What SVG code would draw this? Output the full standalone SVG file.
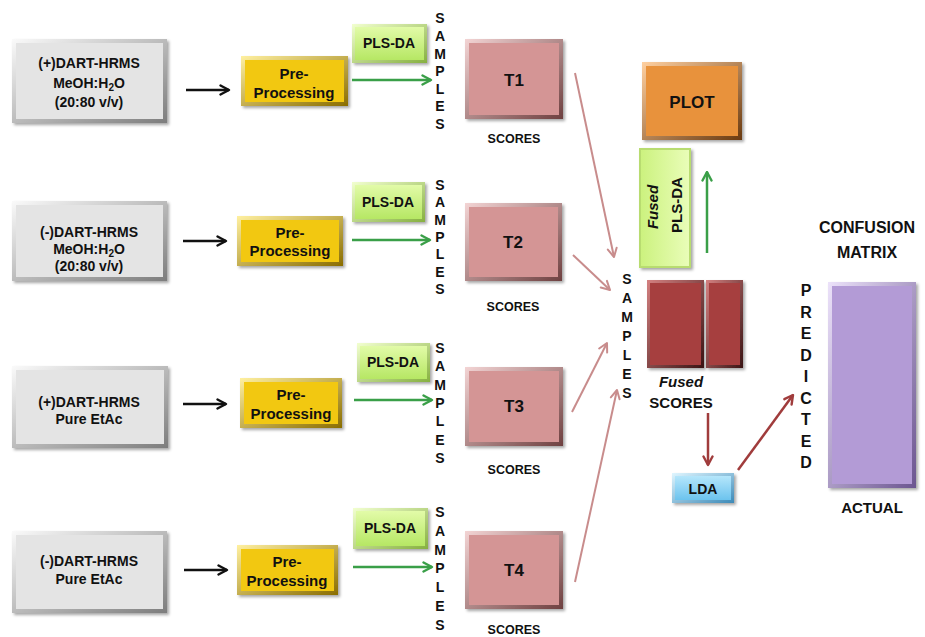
<svg xmlns="http://www.w3.org/2000/svg" width="925" height="637" viewBox="0 0 925 637">
<style>
text{font-family:"Liberation Sans","DejaVu Sans",Arial,sans-serif;font-weight:bold;fill:#111;}
.t13{font-size:13px;text-anchor:middle;}
.t14{font-size:14px;text-anchor:middle;}
.t15{font-size:15px;text-anchor:middle;}
.t16{font-size:16px;text-anchor:middle;}
.t17{font-size:17px;text-anchor:middle;}
.t12{font-size:12.5px;text-anchor:middle;}
.it{font-style:italic;}
.blk{stroke:#111;stroke-width:2.5;fill:none;}
.grn{stroke:#3a9f48;stroke-width:2.5;fill:none;}
.pnk{stroke:#c88c8c;stroke-width:2;fill:none;}
.drd{stroke:#a03c3c;stroke-width:2.5;fill:none;}
</style>
<defs>
<filter id="sh" x="-10%" y="-10%" width="125%" height="130%">
<feDropShadow dx="2" dy="2" stdDeviation="1.5" flood-color="#000" flood-opacity="0.35"/>
</filter>
<linearGradient id="eGray" x1="0" y1="0" x2="1" y2="1"><stop offset="0" stop-color="#fafafa"/><stop offset="1" stop-color="#7d7d7d"/></linearGradient>
<linearGradient id="eYel" x1="0" y1="0" x2="1" y2="1"><stop offset="0" stop-color="#fff0a0"/><stop offset="1" stop-color="#8a6d00"/></linearGradient>
<linearGradient id="eGrn" x1="0" y1="0" x2="1" y2="1"><stop offset="0" stop-color="#f2ffd0"/><stop offset="1" stop-color="#86b040"/></linearGradient>
<linearGradient id="eRose" x1="0" y1="0" x2="1" y2="1"><stop offset="0" stop-color="#f3d4d4"/><stop offset="1" stop-color="#6e4040"/></linearGradient>
<linearGradient id="eRed" x1="0" y1="0" x2="1" y2="1"><stop offset="0" stop-color="#d48080"/><stop offset="1" stop-color="#3a1414"/></linearGradient>
<linearGradient id="eOr" x1="0" y1="0" x2="1" y2="1"><stop offset="0" stop-color="#ffd0a0"/><stop offset="1" stop-color="#6a3a10"/></linearGradient>
<linearGradient id="ePur" x1="0" y1="0" x2="1" y2="1"><stop offset="0" stop-color="#ece2fa"/><stop offset="1" stop-color="#6b5590"/></linearGradient>
<linearGradient id="eBlu" x1="0" y1="0" x2="1" y2="1"><stop offset="0" stop-color="#e0f6ff"/><stop offset="1" stop-color="#3c8ab8"/></linearGradient>
<linearGradient id="fGrn" x1="0" y1="0" x2="0" y2="1"><stop offset="0" stop-color="#e2fba8"/><stop offset="1" stop-color="#b6e764"/></linearGradient>
<linearGradient id="fGrnH" x1="0" y1="0" x2="1" y2="0"><stop offset="0" stop-color="#ccf27f"/><stop offset="1" stop-color="#e9fdb8"/></linearGradient>
<linearGradient id="fBlu" x1="0" y1="0" x2="0" y2="1"><stop offset="0" stop-color="#b5e6fb"/><stop offset="1" stop-color="#6cc3ee"/></linearGradient>
<marker id="aBlk" viewBox="0 0 12 12" refX="10.5" refY="6" markerWidth="12" markerHeight="12" markerUnits="userSpaceOnUse" orient="auto"><path d="M2,1.5 L10.5,6 L2,10.5" fill="none" stroke="#111" stroke-width="2.4" stroke-linecap="round" stroke-linejoin="round"/></marker>
<marker id="aGrn" viewBox="0 0 12 12" refX="10.5" refY="6" markerWidth="12" markerHeight="12" markerUnits="userSpaceOnUse" orient="auto"><path d="M2,1.5 L10.5,6 L2,10.5" fill="none" stroke="#3a9f48" stroke-width="2.4" stroke-linecap="round" stroke-linejoin="round"/></marker>
<marker id="aPnk" viewBox="0 0 12 12" refX="10.5" refY="6" markerWidth="12" markerHeight="12" markerUnits="userSpaceOnUse" orient="auto"><path d="M2,1.5 L10.5,6 L2,10.5" fill="none" stroke="#c88c8c" stroke-width="2" stroke-linecap="round" stroke-linejoin="round"/></marker>
<marker id="aDrd" viewBox="0 0 12 12" refX="10.5" refY="6" markerWidth="12" markerHeight="12" markerUnits="userSpaceOnUse" orient="auto"><path d="M2,1.5 L10.5,6 L2,10.5" fill="none" stroke="#a03c3c" stroke-width="2.4" stroke-linecap="round" stroke-linejoin="round"/></marker>
</defs>
<rect width="925" height="637" fill="#ffffff"/>

<!-- Row 1 -->
<g id="src1"><rect x="12" y="39" width="155" height="84" fill="url(#eGray)" filter="url(#sh)"/><rect x="16" y="43" width="147" height="76" fill="#e4e4e4"/>
<text class="t14" x="89" y="68">(+)DART-HRMS</text><text class="t14" x="89" y="88">MeOH:H<tspan font-size="10" dy="3">2</tspan><tspan dy="-3">O</tspan></text><text class="t14" x="89" y="107">(20:80 v/v)</text></g>
<g id="pre1"><rect x="241" y="56" width="107" height="50" fill="url(#eYel)" filter="url(#sh)"/><rect x="245" y="60" width="99" height="42" fill="#f2c811"/>
<text class="t15" x="294" y="79">Pre-</text><text class="t15" x="294" y="98">Processing</text></g>
<g id="pls1"><rect x="352" y="24" width="75" height="39" fill="url(#eGrn)" filter="url(#sh)"/><rect x="355" y="27" width="69" height="33" fill="url(#fGrn)"/>
<text class="t14" x="389" y="48">PLS-DA</text></g>
<g id="smp1"><text class="t14"><tspan x="440" y="23">S</tspan><tspan x="440" dy="18">A</tspan><tspan x="440" dy="17.5">M</tspan><tspan x="440" dy="17.5">P</tspan><tspan x="440" dy="17.5">L</tspan><tspan x="440" dy="17.5">E</tspan><tspan x="440" dy="18">S</tspan></text></g>
<g id="t1"><rect x="465" y="39" width="98" height="80" fill="url(#eRose)" filter="url(#sh)"/><rect x="469" y="43" width="90" height="72" fill="#d49595"/>
<text class="t17" x="514" y="86">T1</text><text class="t12" x="514" y="143">SCORES</text></g>

<!-- Row 2 -->
<g id="src2"><rect x="12" y="201" width="155" height="80" fill="url(#eGray)" filter="url(#sh)"/><rect x="16" y="205" width="147" height="72" fill="#e4e4e4"/>
<text class="t14" x="89" y="237">(-)DART-HRMS</text><text class="t14" x="89" y="254">MeOH:H<tspan font-size="10" dy="3">2</tspan><tspan dy="-3">O</tspan></text><text class="t14" x="89" y="271">(20:80 v/v)</text></g>
<g id="pre2"><rect x="237" y="216" width="106" height="50" fill="url(#eYel)" filter="url(#sh)"/><rect x="241" y="220" width="98" height="42" fill="#f2c811"/>
<text class="t15" x="290" y="238">Pre-</text><text class="t15" x="290" y="256">Processing</text></g>
<g id="pls2"><rect x="352" y="182" width="73" height="40" fill="url(#eGrn)" filter="url(#sh)"/><rect x="355" y="185" width="67" height="34" fill="url(#fGrn)"/>
<text class="t14" x="388" y="207">PLS-DA</text></g>
<g id="smp2"><text class="t14"><tspan x="440" y="190">S</tspan><tspan x="440" dy="17.3">A</tspan><tspan x="440" dy="17.3">M</tspan><tspan x="440" dy="17.3">P</tspan><tspan x="440" dy="17.3">L</tspan><tspan x="440" dy="17.3">E</tspan><tspan x="440" dy="17.3">S</tspan></text></g>
<g id="t2"><rect x="465" y="203" width="97" height="78" fill="url(#eRose)" filter="url(#sh)"/><rect x="469" y="207" width="89" height="70" fill="#d49595"/>
<text class="t17" x="513" y="248">T2</text><text class="t12" x="513" y="311">SCORES</text></g>

<!-- Row 3 -->
<g id="src3"><rect x="12" y="366" width="156" height="82" fill="url(#eGray)" filter="url(#sh)"/><rect x="16" y="370" width="148" height="74" fill="#e4e4e4"/>
<text class="t14" x="89" y="407">(+)DART-HRMS</text><text class="t14" x="89" y="424">Pure EtAc</text></g>
<g id="pre3"><rect x="240" y="378" width="102" height="50" fill="url(#eYel)" filter="url(#sh)"/><rect x="244" y="382" width="94" height="42" fill="#f2c811"/>
<text class="t15" x="291" y="400">Pre-</text><text class="t15" x="291" y="419">Processing</text></g>
<g id="pls3"><rect x="357" y="343" width="73" height="39" fill="url(#eGrn)" filter="url(#sh)"/><rect x="360" y="346" width="67" height="33" fill="url(#fGrn)"/>
<text class="t14" x="393" y="367">PLS-DA</text></g>
<g id="smp3"><text class="t14"><tspan x="440" y="353">S</tspan><tspan x="440" dy="18.3">A</tspan><tspan x="440" dy="18.3">M</tspan><tspan x="440" dy="18.3">P</tspan><tspan x="440" dy="18.3">L</tspan><tspan x="440" dy="18.3">E</tspan><tspan x="440" dy="18.3">S</tspan></text></g>
<g id="t3"><rect x="465" y="367" width="98" height="79" fill="url(#eRose)" filter="url(#sh)"/><rect x="469" y="371" width="90" height="71" fill="#d49595"/>
<text class="t17" x="514" y="412">T3</text><text class="t12" x="514" y="474">SCORES</text></g>

<!-- Row 4 -->
<g id="src4"><rect x="12" y="531" width="155" height="82" fill="url(#eGray)" filter="url(#sh)"/><rect x="16" y="535" width="147" height="74" fill="#e4e4e4"/>
<text class="t14" x="89" y="566">(-)DART-HRMS</text><text class="t14" x="89" y="584">Pure EtAc</text></g>
<g id="pre4"><rect x="237" y="545" width="101" height="50" fill="url(#eYel)" filter="url(#sh)"/><rect x="241" y="549" width="93" height="42" fill="#f2c811"/>
<text class="t15" x="287" y="567">Pre-</text><text class="t15" x="287" y="586">Processing</text></g>
<g id="pls4"><rect x="353" y="508" width="75" height="41" fill="url(#eGrn)" filter="url(#sh)"/><rect x="356" y="511" width="69" height="35" fill="url(#fGrn)"/>
<text class="t14" x="390" y="533">PLS-DA</text></g>
<g id="smp4"><text class="t14"><tspan x="440" y="517">S</tspan><tspan x="440" dy="18.8">A</tspan><tspan x="440" dy="18.8">M</tspan><tspan x="440" dy="18.8">P</tspan><tspan x="440" dy="18.8">L</tspan><tspan x="440" dy="18.8">E</tspan><tspan x="440" dy="18.8">S</tspan></text></g>
<g id="t4"><rect x="465" y="531" width="98" height="78" fill="url(#eRose)" filter="url(#sh)"/><rect x="469" y="535" width="90" height="70" fill="#d49595"/>
<text class="t17" x="514" y="576">T4</text><text class="t12" x="514" y="634">SCORES</text></g>

<!-- Fusion part -->
<g id="plot"><rect x="642" y="62" width="100" height="78" fill="url(#eOr)" filter="url(#sh)"/><rect x="646" y="66" width="92" height="70" fill="#e8923c"/>
<text class="t17" x="692" y="108">PLOT</text></g>
<g id="fusedpls"><rect x="639" y="148" width="52" height="120" fill="#b8dc70" filter="url(#sh)"/><rect x="641" y="150" width="48" height="116" fill="url(#fGrnH)"/>
<text class="t15 it" transform="translate(658,207) rotate(-90)" x="0" y="0">Fused</text>
<text class="t15" transform="translate(682,205) rotate(-90)" x="0" y="0">PLS-DA</text></g>
<g id="smp5"><text class="t14"><tspan x="627" y="284">S</tspan><tspan x="627" dy="19">A</tspan><tspan x="627" dy="19">M</tspan><tspan x="627" dy="19">P</tspan><tspan x="627" dy="19">L</tspan><tspan x="627" dy="19">E</tspan><tspan x="627" dy="19">S</tspan></text></g>
<g id="fusedscores"><rect x="647" y="280" width="57" height="88" fill="url(#eRed)" filter="url(#sh)"/><rect x="650" y="283" width="51" height="82" fill="#a63f3f"/>
<rect x="706" y="280" width="37" height="88" fill="url(#eRed)" filter="url(#sh)"/><rect x="709" y="283" width="31" height="82" fill="#a63f3f"/>
<text class="t15 it" x="681" y="387">Fused</text><text class="t15" x="681" y="408">SCORES</text></g>
<g id="lda"><rect x="672" y="473" width="62" height="30" fill="url(#eBlu)" filter="url(#sh)"/><rect x="675" y="476" width="56" height="24" fill="url(#fBlu)"/>
<text class="t14" x="703" y="494">LDA</text></g>
<g id="pred"><text class="t16"><tspan x="806" y="296">P</tspan><tspan x="806" dy="21.5">R</tspan><tspan x="806" dy="21.5">E</tspan><tspan x="806" dy="21.5">D</tspan><tspan x="806" dy="21.5">I</tspan><tspan x="806" dy="21.5">C</tspan><tspan x="806" dy="21.5">T</tspan><tspan x="806" dy="21.5">E</tspan><tspan x="806" dy="21.5">D</tspan></text></g>
<g id="confusion"><text class="t16" x="867" y="233">CONFUSION</text><text class="t16" x="867" y="258">MATRIX</text>
<rect x="828" y="282" width="88" height="206" fill="url(#ePur)" filter="url(#sh)"/><rect x="832" y="286" width="80" height="198" fill="#b39bd6"/>
<text class="t15" x="872" y="513">ACTUAL</text></g>

<!-- Connectors -->
<g id="connectors">
<line class="blk" x1="186" y1="90" x2="229" y2="90" marker-end="url(#aBlk)"/>
<line class="blk" x1="183" y1="241" x2="226" y2="241" marker-end="url(#aBlk)"/>
<line class="blk" x1="183" y1="404" x2="226" y2="404" marker-end="url(#aBlk)"/>
<line class="blk" x1="184" y1="570" x2="227" y2="570" marker-end="url(#aBlk)"/>
<line class="grn" x1="352" y1="80" x2="431" y2="80" marker-end="url(#aGrn)"/>
<line class="grn" x1="352" y1="240" x2="430" y2="240" marker-end="url(#aGrn)"/>
<line class="grn" x1="354" y1="400" x2="432" y2="400" marker-end="url(#aGrn)"/>
<line class="grn" x1="353" y1="567" x2="432" y2="567" marker-end="url(#aGrn)"/>
<line class="pnk" x1="575" y1="73" x2="614" y2="257" marker-end="url(#aPnk)"/>
<line class="pnk" x1="573" y1="255" x2="610" y2="290" marker-end="url(#aPnk)"/>
<line class="pnk" x1="572" y1="412" x2="607" y2="343" marker-end="url(#aPnk)"/>
<line class="pnk" x1="575" y1="582" x2="617" y2="390" marker-end="url(#aPnk)"/>
<line class="grn" x1="707" y1="253" x2="707" y2="172" marker-end="url(#aGrn)"/>
<line class="drd" x1="708" y1="413" x2="708" y2="465" marker-end="url(#aDrd)"/>
<line class="drd" x1="738" y1="470" x2="793" y2="395" marker-end="url(#aDrd)"/>
</g>
</svg>
